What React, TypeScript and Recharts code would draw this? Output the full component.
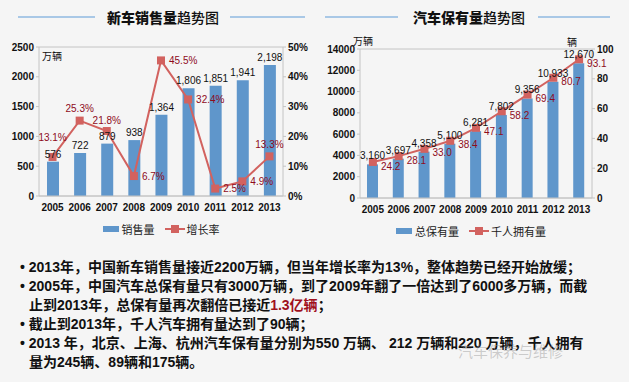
import { ComposedChart, Bar, Line, XAxis, YAxis, CartesianGrid, Legend, LabelList } from 'recharts'

const years = ['2005', '2006', '2007', '2008', '2009', '2010', '2011', '2012', '2013']
const salesVolume = [576, 722, 879, 938, 1364, 1806, 1851, 1941, 2198]
const salesGrowth = [13.1, 25.3, 21.8, 6.7, 45.5, 32.4, 2.5, 4.9, 13.3]
const carParc = [3160, 3697, 4358, 5100, 6281, 7802, 9356, 10933, 12670]
const carsPerThousand = [24.2, 28.1, 33.0, 38.4, 47.1, 58.2, 69.4, 80.7, 93.1]

const salesTicks = [0, 500, 1000, 1500, 2000, 2500]
const growthTicks = [0, 5, 10, 15, 20, 25, 30, 35, 40, 45, 50]
const parcTicks = [0, 2000, 4000, 6000, 8000, 10000, 12000, 14000]
const perThousandTicks = [0, 10, 20, 30, 40, 50, 60, 70, 80, 90, 100]

// how far each growth label is lifted above its marker; 0 = put it to the right
const growthLift = [19, 11, 10, 0, 0, 0, 0, 0, 11]

const salesData = years.map((y, i) => ({ year: y, sales: salesVolume[i], growth: salesGrowth[i] }))
const parcData = years.map((y, i) => ({ year: y, total: carParc[i], perK: carsPerThousand[i] }))

const BLUE = '#5f96cb'
const RED = '#d2625f'
const DARKRED = '#8e0b1c'
const GRID = '#c4c4c4'
const FONT = '"Liberation Sans", "Noto Sans CJK SC", sans-serif'
const CJK = '"Noto Sans CJK SC", sans-serif'

const tickStyle = { fontSize: 10, fontWeight: 700, fill: '#111', fontFamily: FONT }

const squareDot = (p: any) => (
  <rect key={`d-${p.index}`} x={p.cx - 4} y={p.cy - 4} width={8} height={8} fill={RED} />
)

function GrowthLabel(p: any) {
  const i = p.index ?? salesGrowth.indexOf(p.value)
  const lift = growthLift[i]
  const above = lift > 0
  return (
    <text
      x={above ? p.x : p.x + 8}
      y={above ? p.y - lift : p.y + 1}
      textAnchor={above ? 'middle' : 'start'}
      dominantBaseline="middle"
      fontSize={10}
      fill={DARKRED}
      fontFamily={FONT}
    >
      {`${p.value}%`}
    </text>
  )
}

function PerKLabel(p: any) {
  return (
    <text x={p.x + 8} y={p.y + 5} dominantBaseline="middle" fontSize={10} fill={DARKRED} fontFamily={FONT}>
      {Number(p.value).toFixed(1)}
    </text>
  )
}

function makeLegend(barName: string, lineName: string) {
  return () => (
    <div style={{ display: 'flex', justifyContent: 'center', alignItems: 'center', fontSize: 11, fontFamily: CJK, color: '#222' }}>
      <svg width={16} height={8} style={{ marginRight: 3 }}>
        <rect x={0} y={1} width={16} height={6} fill={BLUE} />
      </svg>
      <span style={{ marginRight: 10 }}>{barName}</span>
      <svg width={20} height={10} style={{ marginRight: 2 }}>
        <line x1={0} y1={5} x2={20} y2={5} stroke={RED} strokeWidth={2} />
        <rect x={6} y={1} width={8} height={8} fill={RED} />
      </svg>
      <span>{lineName}</span>
    </div>
  )
}

function Title({ text, bold, cx, lines }: { text: string; bold: number; cx: number; lines: number[] }) {
  return (
    <>
      <div style={{ position: 'absolute', left: lines[0], top: 16, width: lines[1] - lines[0], height: 2, background: '#a9c8e6' }} />
      <div style={{ position: 'absolute', left: lines[2], top: 16, width: lines[3] - lines[2], height: 2, background: '#a9c8e6' }} />
      <div style={{ position: 'absolute', left: cx - 70, top: 7, width: 140, textAlign: 'center', fontFamily: CJK, fontSize: 14, color: '#111' }}>
        <span style={{ fontWeight: 900 }}>{text.slice(0, bold)}</span>
        <span style={{ fontWeight: 500 }}>{text.slice(bold)}</span>
      </div>
    </>
  )
}

const unit = { position: 'absolute' as const, fontSize: 10, fontFamily: CJK, color: '#111' }

export default function App() {
  return (
    <div style={{ position: 'absolute', left: 0, top: 0, width: 629, height: 382, background: '#f5f5f5', overflow: 'hidden', fontFamily: FONT }}>
      <Title text="新车销售量趋势图" bold={5} cx={163} lines={[18, 95, 230, 305]} />
      <Title text="汽车保有量趋势图" bold={5} cx={469} lines={[325, 398, 538, 610]} />

      <div style={{ position: 'absolute', left: 0, top: 0 }}>
        <ComposedChart width={315} height={245} data={salesData} margin={{ top: 47, right: 2, left: 9, bottom: 4 }}>
          <CartesianGrid vertical={false} stroke={GRID} />
          <XAxis dataKey="year" tick={tickStyle} tickLine={false} axisLine={{ stroke: GRID }} height={25} interval={0} />
          <YAxis yAxisId="l" domain={[0, 2500]} ticks={salesTicks} tick={tickStyle} width={30} axisLine={{ stroke: GRID }} tickLine={{ stroke: GRID }} tickSize={3} />
          <YAxis yAxisId="r" orientation="right" domain={[0, 50]} ticks={growthTicks} tickFormatter={(v) => `${v}%`} tick={tickStyle} width={30} axisLine={{ stroke: GRID }} tickLine={{ stroke: GRID }} tickSize={3} />
          <Legend verticalAlign="bottom" height={20} content={makeLegend('销售量', '增长率')} />
          <Bar yAxisId="l" dataKey="sales" name="销售量" fill={BLUE} barSize={12} isAnimationActive={false}>
            <LabelList dataKey="sales" position="top" offset={4} fontSize={10} fill="#111" fontFamily={FONT} formatter={(v: any) => Number(v).toLocaleString('en-US')} />
          </Bar>
          <Line yAxisId="r" dataKey="growth" name="增长率" stroke={RED} strokeWidth={2} dot={squareDot} activeDot={false} isAnimationActive={false}>
            <LabelList dataKey="growth" content={GrowthLabel} />
          </Line>
        </ComposedChart>
      </div>
      <div style={{ ...unit, left: 42, top: 48 }}>万辆</div>

      <div style={{ position: 'absolute', left: 315, top: 0 }}>
        <ComposedChart width={314} height={245} data={parcData} margin={{ top: 49, right: 7, left: 5, bottom: 2 }}>
          <CartesianGrid vertical={false} stroke={GRID} />
          <XAxis dataKey="year" tick={tickStyle} tickLine={false} axisLine={{ stroke: GRID }} height={25} interval={0} />
          <YAxis yAxisId="l" domain={[0, 14000]} ticks={parcTicks} tick={tickStyle} width={40} axisLine={{ stroke: GRID }} tickLine={{ stroke: GRID }} tickSize={3} />
          <YAxis yAxisId="r" orientation="right" domain={[0, 100]} ticks={perThousandTicks} tick={tickStyle} width={30} axisLine={{ stroke: GRID }} tickLine={{ stroke: GRID }} tickSize={3} />
          <Legend verticalAlign="bottom" height={20} content={makeLegend('总保有量', '千人拥有量')} />
          <Bar yAxisId="l" dataKey="total" name="总保有量" fill={BLUE} barSize={11} isAnimationActive={false}>
            <LabelList dataKey="total" position="top" offset={5} fontSize={10} fill="#111" fontFamily={FONT} formatter={(v: any) => Number(v).toLocaleString('en-US')} />
          </Bar>
          <Line yAxisId="r" dataKey="perK" name="千人拥有量" stroke={RED} strokeWidth={2} dot={squareDot} activeDot={false} isAnimationActive={false}>
            <LabelList dataKey="perK" content={PerKLabel} />
          </Line>
        </ComposedChart>
      </div>
      <div style={{ ...unit, left: 353, top: 33 }}>万辆</div>
      <div style={{ ...unit, left: 567, top: 34 }}>辆</div>

      <div style={{ position: 'absolute', left: 20, top: 258, width: 600, fontSize: 14, fontWeight: 700, lineHeight: '19px', color: '#111', fontFamily: FONT, whiteSpace: 'nowrap' }}>
        <div>• 2013年，中国新车销售量接近2200万辆，但当年增长率为13%，整体趋势已经开始放缓；</div>
        <div>• 2005年，中国汽车总保有量只有3000万辆，到了2009年翻了一倍达到了6000多万辆，而截</div>
        <div style={{ paddingLeft: 9 }}>止到2013年，总保有量再次翻倍已接近<span style={{ color: '#a0101c' }}>1.3亿辆</span>；</div>
        <div>• 截止到2013年，千人汽车拥有量达到了90辆；</div>
        <div>• 2013 年，北京、上海、杭州汽车保有量分别为550 万辆、 212 万辆和220 万辆，千人拥有</div>
        <div style={{ paddingLeft: 9 }}>量为245辆、89辆和175辆。</div>
      </div>
      <div style={{ position: 'absolute', left: 458, top: 340, fontSize: 15, fontFamily: CJK, color: 'rgba(150,150,150,0.45)' }}>汽车保养与维修</div>
    </div>
  )
}
